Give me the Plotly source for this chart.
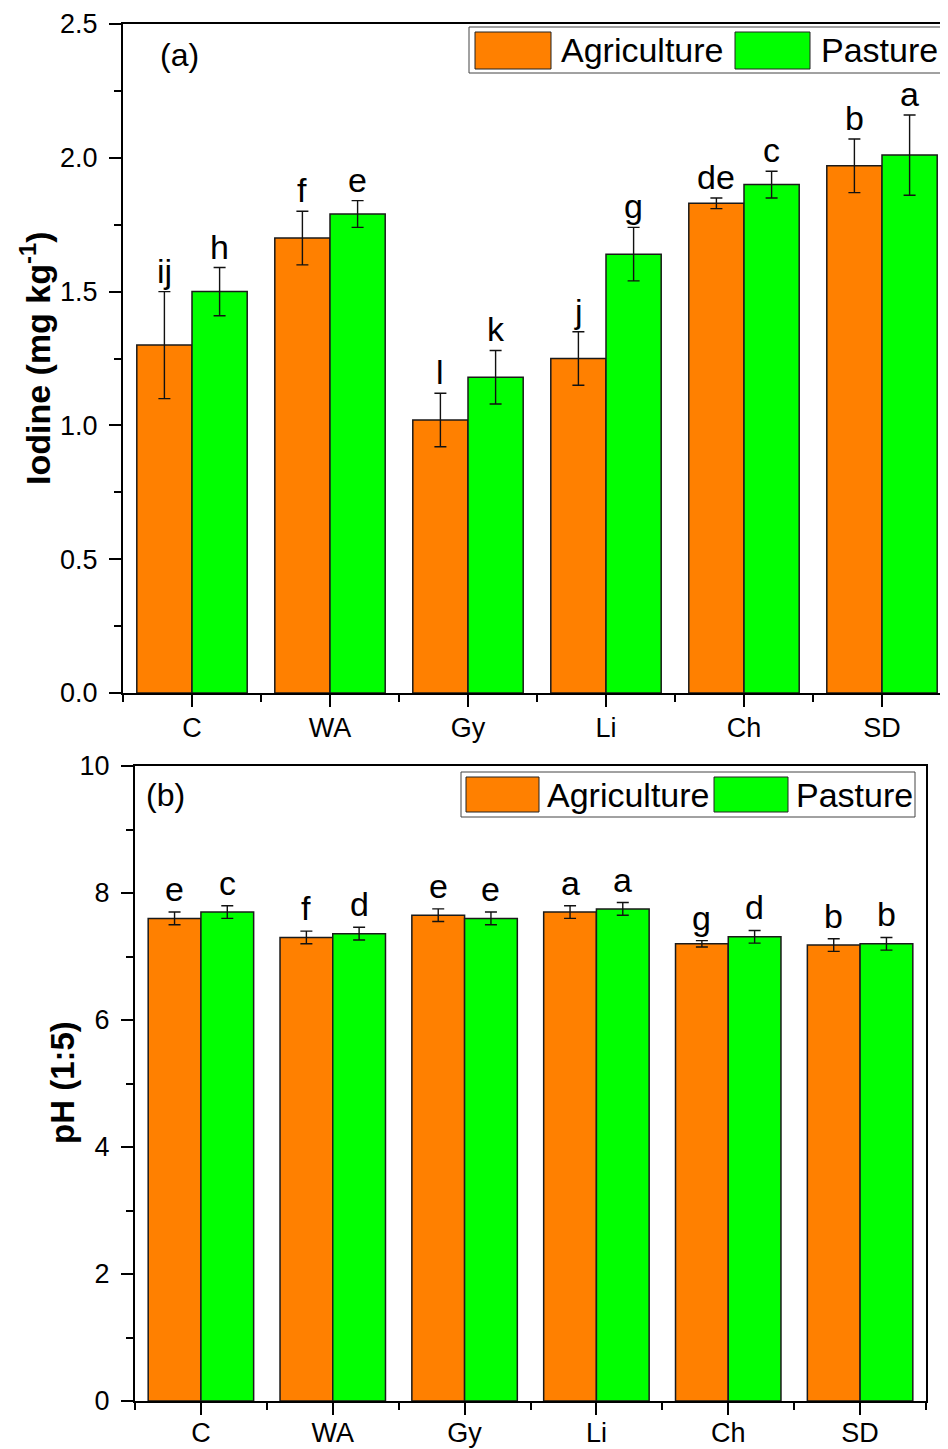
import plotly.graph_objects as go

# ---------------- data ----------------
categories = ["C", "WA", "Gy", "Li", "Ch", "SD"]

iodine_agri = [1.30, 1.70, 1.02, 1.25, 1.83, 1.97]
iodine_agri_err = [0.20, 0.10, 0.10, 0.10, 0.02, 0.10]
iodine_past = [1.50, 1.79, 1.18, 1.64, 1.90, 2.01]
iodine_past_err = [0.09, 0.05, 0.10, 0.10, 0.05, 0.15]
iodine_agri_letters = ["ij", "f", "l", "j", "de", "b"]
iodine_past_letters = ["h", "e", "k", "g", "c", "a"]

ph_agri = [7.60, 7.30, 7.65, 7.70, 7.20, 7.18]
ph_agri_err = [0.10, 0.10, 0.10, 0.10, 0.05, 0.10]
ph_past = [7.70, 7.36, 7.60, 7.75, 7.31, 7.20]
ph_past_err = [0.10, 0.10, 0.10, 0.10, 0.10, 0.10]
ph_agri_letters = ["e", "f", "e", "a", "g", "b"]
ph_past_letters = ["c", "d", "e", "a", "d", "b"]

series_names = ["Agriculture", "Pasture"]
colors = ["#FF8000", "#00FF00"]

# ---------------- layout helpers ----------------
W, H = 948, 1449
OFF = 8  # page body margin
FW, FH = W - OFF, H - OFF
FONT = "Arial, Liberation Sans, sans-serif"


def px(x):
    return (x - OFF) / FW


def py(y):
    return 1 - (y - OFF) / FH


idx = list(range(len(categories)))
fig = go.Figure()

panels = [
    dict(ax="x", ay="y", agri=iodine_agri, agri_err=iodine_agri_err,
         past=iodine_past, past_err=iodine_past_err,
         la=iodine_agri_letters, lp=iodine_past_letters, yshift=0),
    dict(ax="x2", ay="y2", agri=ph_agri, agri_err=ph_agri_err,
         past=ph_past, past_err=ph_past_err,
         la=ph_agri_letters, lp=ph_past_letters, yshift=2),
]

annotations = []
for p in panels:
    for name, vals, errs, col in [
        (series_names[0], p["agri"], p["agri_err"], colors[0]),
        (series_names[1], p["past"], p["past_err"], colors[1]),
    ]:
        fig.add_trace(go.Bar(
            x=idx, y=vals, name=name, showlegend=False,
            xaxis=p["ax"], yaxis=p["ay"], offsetgroup=name,
            marker=dict(color=col, line=dict(color="#1a1a1a", width=1.5)),
            error_y=dict(type="data", array=errs, color="#111111",
                         thickness=1.4, width=6),
        ))
    for i in idx:
        for off, vals, errs, labs in [(-0.2, p["agri"], p["agri_err"], p["la"]),
                                      (0.2, p["past"], p["past_err"], p["lp"])]:
            annotations.append(dict(
                x=i + off, y=vals[i] + errs[i], xref=p["ax"], yref=p["ay"],
                text=labs[i], showarrow=False, yanchor="bottom", xanchor="center",
                yshift=p["yshift"], font=dict(family=FONT, size=34, color="black"),
            ))

# panel labels
annotations.append(dict(x=px(158), y=py(55), xref="paper", yref="paper", text="(a)",
                        showarrow=False, xanchor="left", yanchor="middle",
                        font=dict(family=FONT, size=32, color="black")))
annotations.append(dict(x=px(144), y=py(795), xref="paper", yref="paper", text="(b)",
                        showarrow=False, xanchor="left", yanchor="middle",
                        font=dict(family=FONT, size=32, color="black")))

# axis titles
annotations.append(dict(x=px(36), y=py(358), xref="paper", yref="paper",
                        text="<b>Iodine (mg kg<sup>-1</sup>)</b>", textangle=-90,
                        showarrow=False, xanchor="center", yanchor="middle",
                        font=dict(family=FONT, size=34, color="black")))
annotations.append(dict(x=px(62), y=py(1083), xref="paper", yref="paper",
                        text="<b>pH (1:5)</b>", textangle=-90,
                        showarrow=False, xanchor="center", yanchor="middle",
                        font=dict(family=FONT, size=33, color="black")))

# manual legends (box, swatches, labels)
shapes = []
legend_specs = [
    dict(box=(469, 27, 946, 73), sw=[(475, 32, 551, 69), (735, 32, 810, 69)],
         tx=[559, 819], ty=50),
    dict(box=(461, 772, 915, 817), sw=[(466, 777, 539, 812), (714, 777, 788, 812)],
         tx=[545, 794], ty=795),
]
for L in legend_specs:
    x0, y0, x1, y1 = L["box"]
    shapes.append(dict(type="rect", xref="paper", yref="paper",
                       x0=px(x0), y0=py(y1), x1=px(x1), y1=py(y0),
                       line=dict(color="#444444", width=1), fillcolor="white"))
    for (sx0, sy0, sx1, sy1), col, name, tx in zip(L["sw"], colors, series_names, L["tx"]):
        shapes.append(dict(type="rect", xref="paper", yref="paper",
                           x0=px(sx0), y0=py(sy1), x1=px(sx1), y1=py(sy0),
                           line=dict(color="#222222", width=1), fillcolor=col))
        annotations.append(dict(x=px(tx), y=py(L["ty"]), xref="paper", yref="paper",
                                text=name, showarrow=False, xanchor="left",
                                yanchor="middle",
                                font=dict(family=FONT, size=34, color="black")))

axis_common = dict(showline=True, linecolor="black", linewidth=2, showgrid=False,
                   zeroline=False, ticks="outside", tickcolor="black", tickwidth=2,
                   automargin=False,
                   tickfont=dict(family=FONT, size=27, color="black"))

minor_x = dict(tickmode="array", tickvals=[i - 0.5 for i in range(len(categories) + 1)],
               ticks="outside", ticklen=7, tickwidth=2, tickcolor="black")

fig.update_layout(
    width=FW, height=FH, margin=dict(l=0, r=0, t=0, b=0, autoexpand=False),
    paper_bgcolor="white", plot_bgcolor="white",
    barmode="group", bargap=0.2, bargroupgap=0,
    xaxis=dict(domain=[px(123), 1.0], range=[-0.5, -0.5 + (W - 123) / 138],
               tickmode="array", tickvals=idx, ticktext=categories, ticklen=12,
               ticklabelstandoff=-2,
               mirror=True, anchor="y", minor=minor_x, **axis_common),
    yaxis=dict(domain=[py(693), py(24)], range=[0, 2.5], dtick=0.5, tick0=0,
               tickformat=".1f", ticklen=12, anchor="x", ticklabelstandoff=6,
               minor=dict(dtick=0.25, tick0=0, ticks="outside", ticklen=7,
                          tickwidth=2, tickcolor="black"),
               **axis_common),
    xaxis2=dict(domain=[px(135), px(926)], range=[-0.5, 5.5],
                tickmode="array", tickvals=idx, ticktext=categories, ticklen=12,
                ticklabelstandoff=-5,
                mirror=True, anchor="y2", minor=minor_x, **axis_common),
    yaxis2=dict(domain=[py(1401), py(766)], range=[0, 10], dtick=2, tick0=0,
                ticklen=12, anchor="x2", mirror=True, ticklabelstandoff=6,
                minor=dict(dtick=1, tick0=0, ticks="outside", ticklen=7,
                           tickwidth=2, tickcolor="black"),
                **axis_common),
    shapes=shapes,
    annotations=annotations,
)

fig.write_html("out.html")
